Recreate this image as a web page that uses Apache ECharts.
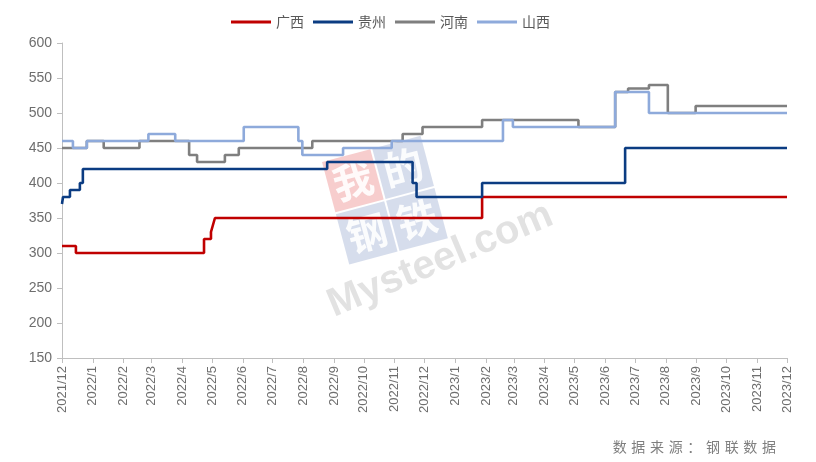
<!DOCTYPE html>
<html>
<head>
<meta charset="utf-8">
<script src="https://cdn.jsdelivr.net/npm/echarts@6/dist/echarts.min.js"></script>
<style>
html,body{margin:0;padding:0;background:#fff;}
#main{width:816px;height:462px;}
</style>
</head>
<body>
<div id="main"></div>
<script>
var seriesNames = ['广西', '贵州', '河南', '山西'];
var tickLabels = ['2021/12','2022/1','2022/2','2022/3','2022/4','2022/5','2022/6','2022/7','2022/8','2022/9','2022/10','2022/11','2022/12','2023/1','2023/2','2023/3','2023/4','2023/5','2023/6','2023/7','2023/8','2023/9','2023/10','2023/11','2023/12'];
var yTicks = [150, 200, 250, 300, 350, 400, 450, 500, 550, 600];
var endDate = '2023-12-01';

var guangxiDates = ['2021-12-01','2021-12-15','2022-04-23','2022-04-30','2022-05-02','2022-05-04','2023-01-28'];
var guangxiValues = [310, 300, 320, 330, 340, 350, 380];

var guizhouDates = ['2021-12-01','2021-12-02','2021-12-09','2021-12-19','2021-12-22','2022-08-25','2022-11-19','2022-11-23','2023-01-28','2023-06-21'];
var guizhouValues = [370, 380, 390, 400, 420, 430, 400, 380, 400, 450];

var henanDates = ['2021-12-01','2021-12-26','2022-01-12','2022-02-17','2022-04-08','2022-04-16','2022-05-14','2022-05-28','2022-08-10','2022-11-09','2022-11-29','2023-01-28','2023-05-05','2023-06-11','2023-06-24','2023-07-15','2023-08-03','2023-08-31'];
var henanValues = [450, 460, 450, 460, 440, 430, 440, 450, 460, 470, 480, 490, 480, 530, 535, 540, 500, 510];

var shanxiDates = ['2021-12-01','2021-12-12','2021-12-26','2022-02-26','2022-03-25','2022-06-02','2022-07-27','2022-07-31','2022-09-10','2022-10-29','2023-02-18','2023-02-28','2023-06-11','2023-07-15'];
var shanxiValues = [460, 450, 460, 470, 460, 480, 460, 440, 450, 460, 490, 480, 530, 500];

var colors = ['#C00000', '#0B3C82', '#7F7F7F', '#8EAADB'];

function toTs(s) {
  var p = s.split('-');
  return Date.UTC(+p[0], +p[1] - 1, +p[2]);
}
function labelToTs(l) {
  var p = l.split('/');
  return Date.UTC(+p[0], +p[1] - 1, 1);
}
function buildData(dates, values) {
  var d = dates.map(function (dt, i) { return [toTs(dt), values[i]]; });
  d.push([toTs(endDate), values[values.length - 1]]);
  return d;
}
var tickTs = tickLabels.map(labelToTs);
var tsToLabel = {};
tickLabels.forEach(function (l, i) { tsToLabel[tickTs[i]] = l; });

var allData = [
  buildData(guangxiDates, guangxiValues),
  buildData(guizhouDates, guizhouValues),
  buildData(henanDates, henanValues),
  buildData(shanxiDates, shanxiValues)
];

function wmBox(x, y, ch, bg) {
  return {
    type: 'group', x: x, y: y, z: -10,
    children: [
      { type: 'rect', z: -10, shape: { x: 0, y: 0, width: 50, height: 52 }, style: { fill: bg } },
      { type: 'text', z: -9, x: 25, y: 26, style: { text: ch, fill: 'rgba(255,255,255,0.9)', font: 'bold 40px "Noto Sans CJK SC"', align: 'center', verticalAlign: 'middle' } }
    ]
  };
}

var chart = echarts.init(document.getElementById('main'), null, {renderer: 'canvas'});
var option = {
  backgroundColor: '#ffffff',
  animation: false,
  color: colors,
  legend: {
    top: 10,
    left: 226,
    itemWidth: 40,
    itemHeight: 3,
    itemGap: 9,
    icon: 'rect',
    textStyle: { color: '#595959', fontSize: 14, fontFamily: 'Noto Sans CJK SC' },
    data: seriesNames
  },
  grid: { left: 62, right: 29, top: 43, bottom: 104 },
  xAxis: {
    type: 'value',
    min: tickTs[0],
    max: tickTs[tickTs.length - 1],
    axisLine: { show: true, lineStyle: { color: '#BFBFBF', width: 1 } },
    axisTick: { show: true, customValues: tickTs, length: 5, lineStyle: { color: '#BFBFBF' } },
    axisLabel: {
      customValues: tickTs,
      rotate: 90,
      color: '#6E6E6E',
      fontSize: 13,
      fontFamily: 'Liberation Sans',
      margin: 8,
      formatter: function (v) { return tsToLabel[v] || ''; }
    },
    splitLine: { show: false }
  },
  yAxis: {
    type: 'value',
    min: yTicks[0],
    max: yTicks[yTicks.length - 1],
    interval: 50,
    axisLine: { show: true, lineStyle: { color: '#BFBFBF', width: 1 } },
    axisTick: { show: true, length: 5, lineStyle: { color: '#BFBFBF' } },
    axisLabel: { color: '#6E6E6E', fontSize: 14, fontFamily: 'Liberation Sans', margin: 10 },
    splitLine: { show: false }
  },
  graphic: [
    {
      type: 'group',
      x: 322, y: 162,
      rotation: 0.26,
      z: -10,
      children: [
        wmBox(0, 0, '我', 'rgba(230,90,90,0.3)'),
        wmBox(52, 0, '的', 'rgba(90,120,180,0.25)'),
        wmBox(0, 54, '钢', 'rgba(90,120,180,0.25)'),
        wmBox(52, 54, '铁', 'rgba(90,120,180,0.25)')
      ]
    },
    {
      type: 'text',
      left: 322,
      top: 195,
      rotation: 0.40,
      z: -10,
      style: { text: 'Mysteel.com', fill: 'rgba(160,160,160,0.3)', font: 'bold 40px "Liberation Sans"' }
    },
    {
      type: 'text',
      right: 40,
      top: 440,
      style: { text: '数\u2004据\u2004来\u2004源\u2004：\u2004钢\u2004联\u2004数\u2004据', fill: '#7F7F7F', font: '14px "Noto Sans CJK SC"' }
    }
  ],
  series: seriesNames.map(function (n, i) {
    return {
      name: n,
      type: 'line',
      step: 'end',
      showSymbol: false,
      symbol: 'none',
      data: allData[i],
      lineStyle: { width: 2.6, color: colors[i] },
      z: 2
    };
  })
};
chart.setOption(option);
</script>
</body>
</html>
